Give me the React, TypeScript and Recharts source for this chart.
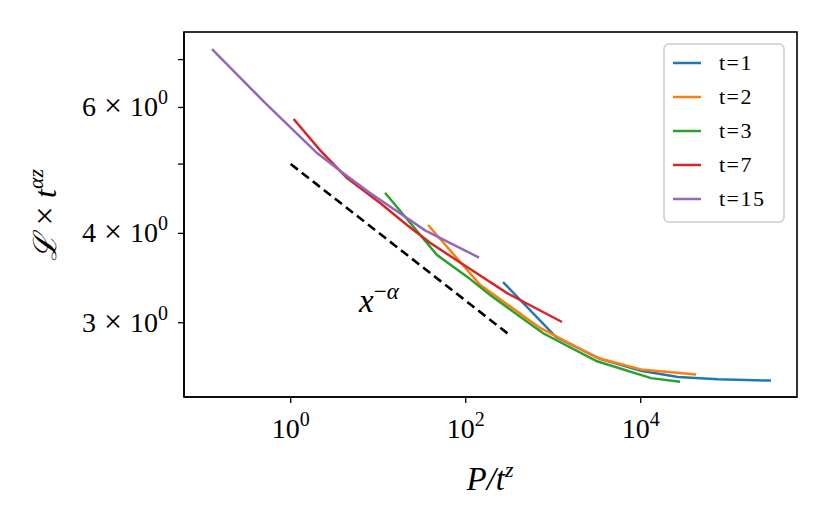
import React from 'react';
import { LineChart, Line, XAxis, YAxis } from 'recharts';

// values (log-log)
const t1X = [267, 1076, 3430, 10070, 26700, 76400, 308000];
const t1Y = [3.42, 2.865, 2.67, 2.57, 2.52, 2.5, 2.49];

const t2X = [37.1, 145.7, 707, 3170, 10070, 42900];
const t2Y = [4.11, 3.39, 2.95, 2.68, 2.58, 2.54];

const t3X = [11.96, 47.0, 103.5, 190, 766, 3170, 13120, 28200];
const t3Y = [4.56, 3.73, 3.48, 3.28, 2.9, 2.65, 2.51, 2.48];

const t7X = [1.08, 2.16, 4.4, 10.5, 21.3, 39.1, 103.5, 297, 1260];
const t7Y = [5.78, 5.23, 4.78, 4.41, 4.11, 3.88, 3.59, 3.3, 3.007];

const t15X = [0.126, 0.509, 2.0, 3.96, 8.0, 34.3, 142];
const t15Y = [7.24, 6.09, 5.18, 4.86, 4.56, 4.04, 3.7];

const guideX = [1, 310];
const guideY = [5.0, 2.89];

const xTicks = [1, 100, 10000];
const yTicks = [3, 4, 5, 6, 7];
const yLabeled = [3, 4, 6];

const seriesNames = ['t=1', 't=2', 't=3', 't=7', 't=15'];
const seriesColors = ['#1f77b4', '#ff7f0e', '#2ca02c', '#d62728', '#9467bd'];

const zip = (xs: number[], ys: number[]) => xs.map((x, i) => ({ x, y: ys[i] }));
const seriesData = [zip(t1X, t1Y), zip(t2X, t2Y), zip(t3X, t3Y), zip(t7X, t7Y), zip(t15X, t15Y)];
const guideData = zip(guideX, guideY);

const FONT = '"Liberation Serif", "DejaVu Serif", serif';

const XTick = ({ x, y, payload }: any) => {
  const exp = Math.round(Math.log10(payload.value));
  return (
    <text x={x} y={y + 33} textAnchor="middle" fontSize={28} fontFamily={FONT} fill="#000">
      10
      <tspan dy={-12} fontSize={20}>
        {exp}
      </tspan>
    </text>
  );
};

const YTick = ({ x, y, payload }: any) => {
  if (!yLabeled.includes(payload.value)) return <g />;
  return (
    <text x={x - 8} y={y + 9} textAnchor="end" fontSize={28} fontFamily={FONT} fill="#000">
      {payload.value}
      <tspan fontSize={32}>{'\u2005×\u2005'}</tspan>
      10
      <tspan dy={-12} fontSize={20}>
        0
      </tspan>
    </text>
  );
};

const axisLine = { stroke: '#000', strokeWidth: 1.6 };
const tickLine = { stroke: '#000', strokeWidth: 1.3 };

export default function App() {
  return (
    <div style={{ position: 'relative', width: 829, height: 524, background: '#fff' }}>
      <style>{'body{margin:0}'}</style>
      <LineChart width={829} height={524} margin={{ top: 32, right: 32, bottom: 0, left: 0 }}>
        <XAxis
          dataKey="x"
          type="number"
          scale="log"
          domain={[0.0603, 611000]}
          allowDataOverflow
          ticks={xTicks}
          height={127}
          tickSize={6}
          tick={<XTick />}
          tickLine={tickLine}
          axisLine={axisLine}
        />
        <YAxis
          type="number"
          scale="log"
          domain={[2.362, 7.65]}
          allowDataOverflow
          ticks={yTicks}
          width={184}
          tickSize={6}
          tick={<YTick />}
          tickLine={tickLine}
          axisLine={axisLine}
        />
        {seriesData.map((d, i) => (
          <Line
            key={seriesNames[i]}
            data={d}
            dataKey="y"
            name={seriesNames[i]}
            stroke={seriesColors[i]}
            strokeWidth={2.5}
            dot={false}
            isAnimationActive={false}
          />
        ))}
        <Line
          data={guideData}
          dataKey="y"
          stroke="#000"
          strokeWidth={2.6}
          strokeDasharray="9 5"
          dot={false}
          isAnimationActive={false}
        />
      </LineChart>

      {/* frame, labels, annotation and legend */}
      <svg
        width={829}
        height={524}
        style={{ position: 'absolute', left: 0, top: 0, pointerEvents: 'none' }}
      >
        <rect x={184} y={32} width={613} height={365} fill="none" stroke="#000" strokeWidth={1.6} />
        <text x={490} y={490} textAnchor="middle" fontSize={33} fontFamily={FONT} fontStyle="italic">
          P/t
          <tspan dy={-13} fontSize={22}>
            z
          </tspan>
        </text>
        <text
          transform="translate(56 215) rotate(-90)"
          textAnchor="middle"
          fontSize={32}
          fontFamily={FONT}
          fontStyle="italic"
        >
          ℒ<tspan fontStyle="normal" fontSize={34}>{'\u2005×\u2005'}</tspan>t
          <tspan dy={-13} fontSize={22}>
            αz
          </tspan>
        </text>
        <text x={359} y={312} fontSize={33} fontFamily={FONT} fontStyle="italic">
          x
          <tspan dy={-13} fontSize={23} fontStyle="normal">
            {'\u2212'}
          </tspan>
          <tspan fontSize={23}>α</tspan>
        </text>

        <rect x={664} y={44} width={120} height={178} rx={5} fill="#fff" fillOpacity={0.85} stroke="#cccccc" strokeWidth={1.5} />
        {seriesNames.map((n, i) => (
          <g key={n}>
            <line x1={673} x2={701} y1={63 + i * 34} y2={63 + i * 34} stroke={seriesColors[i]} strokeWidth={2.5} />
            <text x={719} y={63 + i * 34 + 7} fontSize={22} letterSpacing={1.5} fontFamily={FONT}>
              {n}
            </text>
          </g>
        ))}
      </svg>
    </div>
  );
}
